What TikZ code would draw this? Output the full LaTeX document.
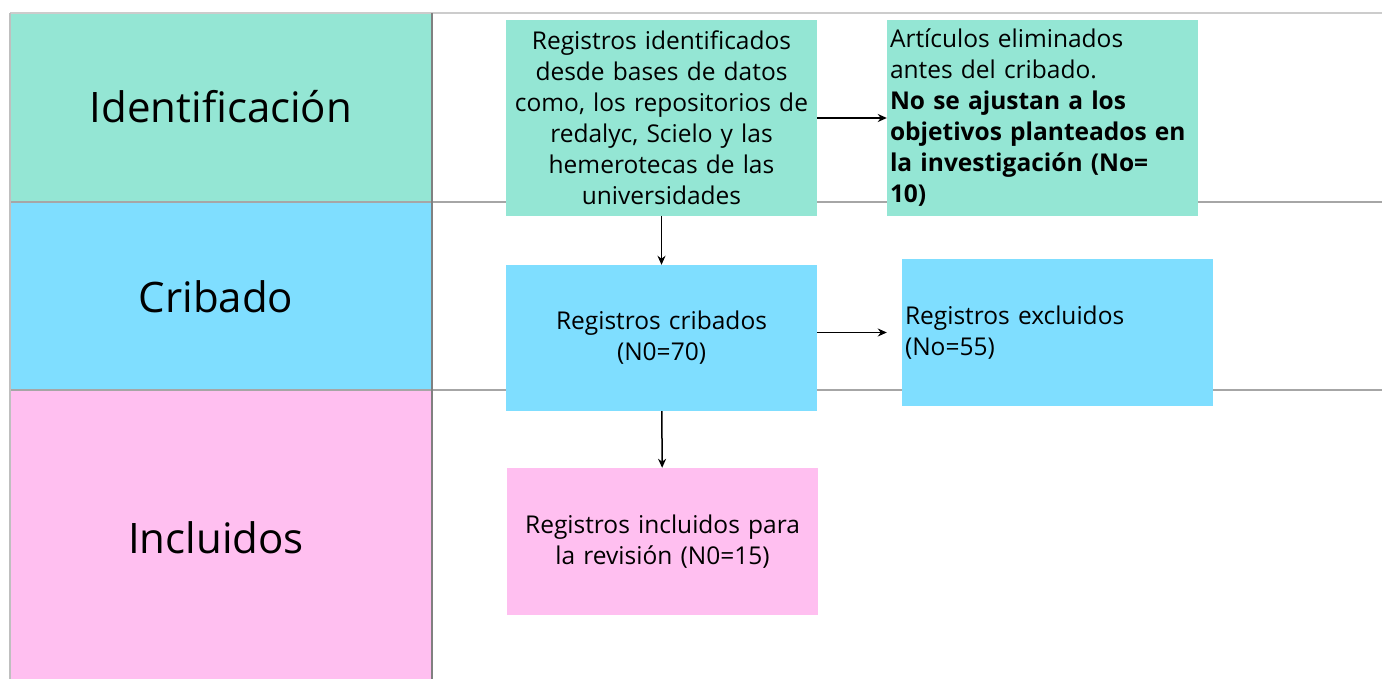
\documentclass[tikz,border=0pt]{standalone}
\usepackage{fontspec}
\setmainfont{Open Sans}
\usetikzlibrary{arrows.meta,positioning}
\definecolor{laneteal}{HTML}{94E6D4}
\definecolor{lanecyan}{HTML}{7FDEFF}
\definecolor{lanepink}{HTML}{FFBFF0}

\begin{document}
\begin{tikzpicture}[x=1pt,y=-1pt,
		box/.style={minimum width=311pt, inner sep=3pt, text width=305pt, font=\fontsize{24.5}{31}\selectfont},
		lanetext/.style={font=\fontsize{42}{48}\selectfont},
		grid/.style={draw=black!35, line width=1.5pt},
		flow/.style={-{Stealth[length=9pt,width=8pt]}, line width=1.5pt}]
		\useasboundingbox (0,0) rectangle (1382,679);

		% lanes
		\fill[laneteal] (10,13) rectangle (432,202);
		\fill[lanecyan] (10,202) rectangle (432,390);
		\fill[lanepink] (10,390) rectangle (432,679);
		\draw[grid, draw=black!20] (10,13) -- (1382,13);
		\draw[grid] (10,202) -- (1382,202);
		\draw[grid] (10,390) -- (1382,390);
		\draw[grid, draw=black!25] (10,13) -- (10,679);
		\draw[grid, draw=black!50] (432,13) -- (432,679);

		\node[lanetext] (lident) at (221,107) {Identificación};
		\node[lanetext] (lcrib) at (216,297) {Cribado};
		\node[lanetext] (lincl) at (216,538) {Incluidos};

		% boxes
		\node[box, fill=laneteal, minimum height=196pt, align=center] (reg) at (661.5,118)
			{Registros identificados\\desde bases de datos\\como, los repositorios de\\redalyc, Scielo y las\\hemerotecas de las\\universidades};
		\node[box, fill=laneteal, minimum height=196pt, align=left] (elim) at (1042.5,118)
			{Artículos eliminados\\antes del cribado.\\\textbf{No se ajustan a los}\\\textbf{objetivos planteados en}\\\textbf{la investigación (No=}\\\textbf{10)}};
		\node[box, fill=lanecyan, minimum height=146pt, align=center] (crib) at (661.5,338)
			{Registros cribados\\(N0=70)};
		\node[box, fill=lanecyan, minimum height=147pt, align=left] (excl) at (1057.5,332.5)
			{Registros excluidos\\(No=55)};
		\node[box, fill=lanepink, minimum height=147pt, align=center] (incl) at (662.5,541.5)
			{Registros incluidos para\\la revisión (N0=15)};

		\draw[flow] (reg.east) -- (elim.west);
		\draw[flow] (reg) -- (crib);
		\draw[flow, shorten >=15pt] (crib.east |- excl.west) -- (excl.west);
		\draw[flow] (crib) -- (incl);
	\end{tikzpicture}
\end{document}
